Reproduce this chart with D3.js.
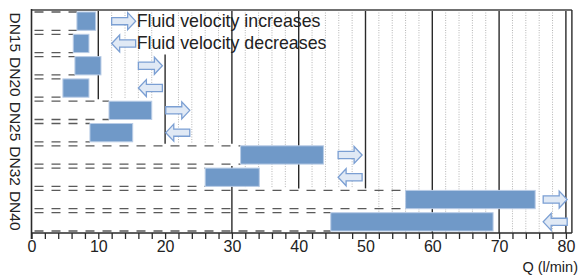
<!DOCTYPE html>
<html><head><meta charset="utf-8">
<script src="https://cdn.jsdelivr.net/npm/d3@7"></script>
<style>
html,body{margin:0;padding:0;background:#fff;}
svg{display:block;font-family:"Liberation Sans",Arial,Helvetica,sans-serif;}
</style></head>
<body>
<svg id="chart" width="580" height="279"></svg>
<script>
// ---- data ----
const groups = ["DN15","DN20","DN25","DN32","DN40"];
const incStart = [6.8, 6.5, 11.6, 31.3, 56.0];
const incEnd   = [9.6, 10.4, 18.0, 43.7, 75.4];
const decStart = [6.25, 4.7, 8.75, 26.0, 44.8];
const decEnd   = [8.6, 8.6, 15.15, 34.1, 69.1];
const arrowAt  = [12.0, 16.0, 20.1, 45.9, 76.6];
const legendLabels = ["Fluid velocity increases","Fluid velocity decreases"];
const majorTicks = [0,10,20,30,40,50,60,70,80];
const minorTicks = d3.range(0, 81, 2);
// solid boundary lines: value, first row, last row
const boundaryValues = [10, 20, 30, 30, 40, 50, 60, 70, 80];
const boundaryFrom   = [0, 2, 0, 7, 0, 0, 0, 0, 0];
const boundaryTo     = [3, 5, 5, 9, 7, 7, 9, 9, 9];
// dotted grid starts (per group)
const gridStart = [10, 10, 20, 30, 50];
const xTitle = "Q (l/min)";

// ---- build rows ----
const rows = [];
groups.forEach((g, i) => {
  rows.push({g: i, kind: 0, s: incStart[i], e: incEnd[i]});
  rows.push({g: i, kind: 1, s: decStart[i], e: decEnd[i]});
});

const svg = d3.select("#chart");
const x = d3.scaleLinear().domain([0, 80]).range([31.5, 565.9]);
const y = d3.scaleBand().domain(d3.range(rows.length)).range([10, 233])
  .paddingInner(0.18).paddingOuter(0.09);
const step = y.step(), bw = y.bandwidth(), gap = step * 0.18 / 2;
const rowTop = r => y(r) - gap;
const rowBot = r => y(r) + bw + gap;
const plotTop = 10, plotBot = 233, rightEdge = x(80) + 6;

// dotted grid
const gridG = svg.append("g");
rows.forEach((r, i) => {
  minorTicks.filter(t => t % 10 !== 0 && t > gridStart[r.g]).forEach(t => {
    gridG.append("line")
      .attr("x1", x(t)).attr("x2", x(t))
      .attr("y1", rowTop(i)).attr("y2", rowBot(i))
      .attr("stroke", "#b4b4b4").attr("stroke-width", 1)
      .attr("stroke-dasharray", "1,1.5");
  });
});

// solid boundary lines
boundaryValues.forEach((v, i) => {
  svg.append("line")
    .attr("x1", x(v)).attr("x2", x(v))
    .attr("y1", rowTop(boundaryFrom[i])).attr("y2", rowBot(boundaryTo[i]))
    .attr("stroke", "#2a2a2a").attr("stroke-width", 1.4);
});

// dashed guide lines from 0 to bar start at bar top and bottom
rows.forEach((r, i) => {
  [y(i), y(i) + bw].forEach(yy => {
    svg.append("line")
      .attr("x1", x(0) + 3).attr("x2", x(r.s))
      .attr("y1", yy).attr("y2", yy)
      .attr("stroke", "#5a5a5a").attr("stroke-width", 1.3)
      .attr("stroke-dasharray", "9,8");
  });
});

// frame
svg.append("line").attr("x1", x(0)).attr("x2", rightEdge)
  .attr("y1", plotTop).attr("y2", plotTop)
  .attr("stroke", "#707070").attr("stroke-width", 2);
svg.append("line").attr("x1", rightEdge).attr("x2", rightEdge)
  .attr("y1", plotTop).attr("y2", plotBot)
  .attr("stroke", "#2a2a2a").attr("stroke-width", 1.4);
svg.append("line").attr("x1", x(0)).attr("x2", x(0))
  .attr("y1", plotTop - 1).attr("y2", plotBot + 6)
  .attr("stroke", "#2a2a2a").attr("stroke-width", 1.6);

// bars
svg.append("g").selectAll("rect").data(rows).join("rect")
  .attr("x", d => x(d.s))
  .attr("y", (d, i) => y(i))
  .attr("width", d => x(d.e) - x(d.s))
  .attr("height", bw)
  .attr("fill", "#7099c8")
  .attr("stroke", "#b9cce6").attr("stroke-width", 1);

// arrows
function arrowPath(x0, cy, dir) {
  const L = 24, H = 8, bh = 3.6, hh = 8.5;
  let pts;
  if (dir > 0) {
    pts = [[x0, cy - bh], [x0 + L - H, cy - bh], [x0 + L - H, cy - hh], [x0 + L, cy],
           [x0 + L - H, cy + hh], [x0 + L - H, cy + bh], [x0, cy + bh]];
  } else {
    pts = [[x0 + L, cy - bh], [x0 + H, cy - bh], [x0 + H, cy - hh], [x0, cy],
           [x0 + H, cy + hh], [x0 + H, cy + bh], [x0 + L, cy + bh]];
  }
  return "M" + pts.map(p => p.join(",")).join("L") + "Z";
}
rows.forEach((r, i) => {
  svg.append("path")
    .attr("d", arrowPath(x(arrowAt[r.g]), y(i) + bw / 2, r.kind === 0 ? 1 : -1))
    .attr("fill", "#e0e9f5").attr("stroke", "#7b9fd3").attr("stroke-width", 1.3);
});

// legend texts (next to DN15 arrows)
legendLabels.forEach((t, k) => {
  svg.append("text")
    .attr("x", x(arrowAt[0]) + 25).attr("y", y(k) + bw / 2 - 0.5)
    .attr("dy", "0.35em")
    .attr("font-size", 17.8).attr("fill", "#222")
    .text(t);
});

// group labels
groups.forEach((g, i) => {
  const cy = (rowTop(2 * i) + rowBot(2 * i + 1)) / 2;
  svg.append("text")
    .attr("transform", `translate(15,${cy}) rotate(90)`)
    .attr("text-anchor", "middle").attr("dy", "0.35em")
    .attr("font-size", 15.5).attr("fill", "#222")
    .text(g);
});

// x axis
const ax = svg.append("g").attr("transform", `translate(0,${plotBot})`)
  .call(d3.axisBottom(x).tickValues(minorTicks).tickSize(6)
    .tickFormat(d => majorTicks.includes(d) ? d : ""));
ax.select(".domain").attr("d", `M${x(0)},0H${rightEdge}`).attr("stroke", "#2a2a2a").attr("stroke-width", 1.6);
ax.selectAll(".tick line").attr("stroke", "#2a2a2a").attr("stroke-width", 1.3);
ax.selectAll(".tick text").attr("font-size", 16).attr("fill", "#222")
  .attr("font-family", "Liberation Sans, Arial, sans-serif").attr("y", 8);

svg.append("text").attr("x", 578).attr("y", 272)
  .attr("text-anchor", "end").attr("font-size", 14.5).attr("fill", "#222")
  .text(xTitle);
</script>
</body></html>
